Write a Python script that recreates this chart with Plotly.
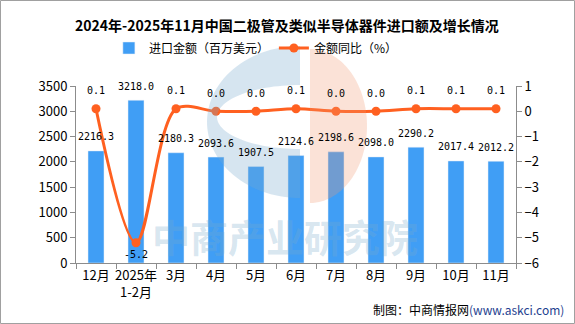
import numpy as np
import plotly.graph_objects as go

categories = ["12月", "2025年<br>1-2月", "3月", "4月", "5月", "6月", "7月", "8月", "9月", "10月", "11月"]
import_values = [2216.3, 3218.0, 2180.3, 2093.6, 1907.5, 2124.6, 2198.6, 2098.0, 2290.2, 2017.4, 2012.2]
yoy_values = [0.1, -5.2, 0.1, 0.0, 0.0, 0.1, 0.0, 0.0, 0.1, 0.1, 0.1]
left_ticks = [0, 500, 1000, 1500, 2000, 2500, 3000, 3500]
right_ticks = [-6, -5, -4, -3, -2, -1, 0, 1]

W, H = 575, 324
L, R, T, B = 76, 59, 86, 61
PW, PH = W - L - R, H - T - B

BAR_COLOR = "#409EF5"
LINE_COLOR = "#FF6020"
LABEL_FONT = dict(family="DejaVu Sans Mono", size=10, color="#000")
CJK = "Noto Sans CJK SC"


def px(x):
    return (x - L) / PW


def py(y):
    return (H - B - y) / PH


def poly_path(pts):
    return "M " + " L ".join(f"{px(x):.5f},{py(y):.5f}" for x, y in pts) + " Z"


fig = go.Figure()
fig.add_trace(go.Bar(
    x=categories, y=import_values, name="进口金额（百万美元）",
    marker_color=BAR_COLOR, width=0.4, yaxis="y",
))
fig.add_trace(go.Scatter(
    x=categories, y=yoy_values, name="金额同比（%）", yaxis="y2",
    mode="lines+markers", line=dict(color=LINE_COLOR, width=3, shape="spline", smoothing=0.9),
    marker=dict(color=LINE_COLOR, size=9), cliponaxis=False,
))

annotations = []
for c, v in zip(categories, import_values):
    annotations.append(dict(x=c, y=v, xref="x", yref="y", text=f"{v:.1f}", showarrow=False,
                            yshift=14, font=LABEL_FONT))
for c, v in zip(categories, yoy_values):
    annotations.append(dict(x=c, y=v, xref="x", yref="y2", text=f"{v:.1f}", showarrow=False,
                            yshift=18 if v >= 0 else -12, font=LABEL_FONT))

# title
annotations.append(dict(text="<b>2024年-2025年11月中国二极管及类似半导体器件进口额及增长情况</b>",
                        xref="paper", yref="paper", x=px(287), y=py(25), showarrow=False,
                        font=dict(family=CJK, size=14, color="#000"), xanchor="center", yanchor="middle"))
# watermark text
annotations.append(dict(text="<b>中商产业研究院</b>", xref="paper", yref="paper", x=px(285), y=py(235),
                        showarrow=False, font=dict(family=CJK, size=38, color="rgba(120,170,205,0.3)"),
                        xanchor="center", yanchor="middle"))
# source
annotations.append(dict(text="制图：中商情报网<span style='color:#1F3F8F'>(www.askci.com)</span>",
                        xref="paper", yref="paper", x=px(566), y=py(309), showarrow=False,
                        font=dict(family=CJK, size=12, color="#000"), xanchor="right", yanchor="middle"))

# watermark logo shapes
t = np.linspace(-np.pi / 2, -3 * np.pi / 2, 60)
blue_outer = [(300 + 93 * np.cos(a), 122 + 76 * np.sin(a)) for a in t]
t2 = np.linspace(-3 * np.pi / 2, -np.pi / 2, 60)
blue_inner = [(300 + 83 * np.cos(a), 117 + 32 * np.sin(a)) for a in t2]
blue_path = blue_outer + blue_inner
t3 = np.linspace(-np.pi / 2, np.pi / 2, 60)
orange_path = [(310 + 57 * np.cos(a), 126 + 77 * np.sin(a)) for a in t3]

shapes = [
    dict(type="path", path=poly_path(blue_path), xref="paper", yref="paper",
         fillcolor="rgba(120,170,205,0.3)", line=dict(width=0), layer="above"),
    dict(type="path", path=poly_path(orange_path), xref="paper", yref="paper",
         fillcolor="rgba(240,150,110,0.28)", line=dict(width=0), layer="above"),
    dict(type="rect", xref="paper", yref="paper", x0=px(0.5), x1=px(W - 0.5), y0=py(H - 0.5), y1=py(0.5),
         line=dict(color="#A0A0A0", width=1), fillcolor="rgba(0,0,0,0)", layer="above"),
]

axis_common = dict(showgrid=False, zeroline=False, showline=True, linecolor="#8C8C8C", linewidth=1,
                   ticks="outside", ticklen=5, tickcolor="#8C8C8C",
                   tickfont=dict(family=CJK, size=13, color="#000"))

fig.update_layout(
    width=W, height=H, margin=dict(l=L, r=R, t=T, b=B),
    paper_bgcolor="white", plot_bgcolor="white",
    showlegend=True,
    legend=dict(orientation="h", xref="container", yref="container", x=0.445, y=1 - 48 / H,
                xanchor="center", yanchor="middle", font=dict(family=CJK, size=12, color="#000"),
                itemwidth=30, bgcolor="rgba(0,0,0,0)"),
    xaxis=dict(**axis_common, tickson="boundaries", type="category", tickangle=0,
               range=[-0.5, len(categories) - 0.5]),
    yaxis=dict(**axis_common, range=[0, 3500], tickvals=left_ticks),
    yaxis2=dict(**axis_common, range=[-6, 1], tickvals=right_ticks, overlaying="y", side="right"),
    annotations=annotations, shapes=shapes,
)
fig.write_html("out.html")
